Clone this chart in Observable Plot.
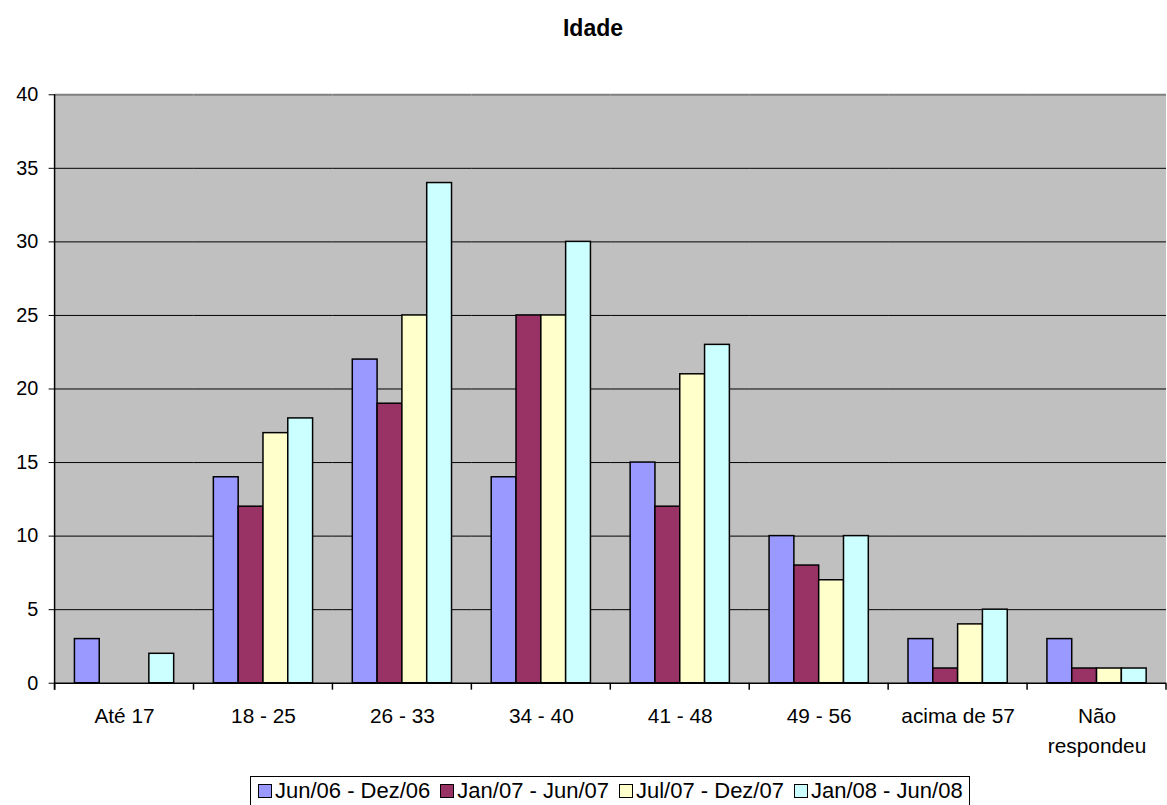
<!DOCTYPE html>
<html>
<head>
<meta charset="utf-8">
<script src="https://cdn.jsdelivr.net/npm/d3@7"></script>
<script src="https://cdn.jsdelivr.net/npm/@observablehq/plot@0.6"></script>
<style>
  html, body { margin: 0; padding: 0; overflow: hidden; background: #fff; width: 1167px; height: 805px; }
  body { position: relative; font-family: "Liberation Sans", Arial, sans-serif; }
  #title { position: absolute; left: 0; width: 1186px; top: 15px; text-align: center; font-weight: bold; font-size: 23px; color: #000; }
  #chart { position: absolute; left: 0; top: 0; }
  #legend { position: absolute; left: 250px; top: 776px; border: 1px solid #000; background: #fff; display: flex; align-items: center; padding: 2px 6px 2px 7px; font-size: 22px; height: 30px; box-sizing: border-box; white-space: nowrap; }
  .item { display: flex; align-items: center; margin-right: 10px; }
  .item:last-child { margin-right: 0; }
  .sw { width: 12px; height: 12px; border: 1px solid #000; margin-right: 3px; }
</style>
</head>
<body>
<div id="title">Idade</div>
<div id="chart"></div>
<div id="legend"></div>
<script>
const categories = ["Até 17", "18 - 25", "26 - 33", "34 - 40", "41 - 48", "49 - 56", "acima de 57", "Não respondeu"];
const series = ["Jun/06 - Dez/06", "Jan/07 - Jun/07", "Jul/07 - Dez/07", "Jan/08 - Jun/08"];
const colors = ["#9999FF", "#993366", "#FFFFCC", "#CCFFFF"];
const jun06dez06 = [3, 14, 22, 14, 15, 10, 3, 3];
const jan07jun07 = [0, 12, 19, 25, 12, 8, 1, 1];
const jul07dez07 = [0, 17, 25, 25, 21, 7, 4, 1];
const jan08jun08 = [2, 18, 34, 30, 23, 10, 5, 1];
const yTicks = [0, 5, 10, 15, 20, 25, 30, 35, 40];
const gridLines = [5, 10, 15, 20, 25, 30, 35];

const seriesValues = [jun06dez06, jan07jun07, jul07dez07, jan08jun08];
const data = [];
categories.forEach((c, i) => {
  series.forEach((s, j) => {
    data.push({cat: c, series: s, value: seriesValues[j][i]});
  });
});

const chart = Plot.plot({
  width: 1176,
  height: 775,
  marginLeft: 53,
  marginRight: 0,
  marginTop: 95,
  marginBottom: 87,
  style: {fontFamily: "'Liberation Sans', Arial, sans-serif", fontSize: "20px", color: "#000", background: "transparent"},
  fx: {domain: categories, paddingInner: 0, paddingOuter: 0, label: null},
  x: {domain: series, paddingInner: 0, paddingOuter: 0.7, axis: null},
  y: {domain: [0, 40], label: null},
  color: {domain: series, range: colors},
  marks: [
    Plot.frame({fill: "#c0c0c0", stroke: null, shapeRendering: "crispEdges"}),
    Plot.ruleY(gridLines, {stroke: "#000", strokeWidth: 1}),
    Plot.ruleY([40], {stroke: "#808080", strokeWidth: 2}),
    Plot.barY(data.filter(d => d.value > 0), {fx: "cat", x: "series", y: "value", fill: "series", stroke: "#000", strokeWidth: 1.5}),
    Plot.ruleY([0], {stroke: "#000", strokeWidth: 1.5}),
    Plot.axisY(yTicks, {tickSize: 6, tickPadding: 11, fontSize: 20, label: null, stroke: "#000"}),
    Plot.axisFx({anchor: "bottom", tickSize: 0, tickPadding: 18, fontSize: 21, lineHeight: 1.45, label: null,
      tickFormat: d => d === "Não respondeu" ? "Não\nrespondeu" : d})
  ]
});
document.getElementById("chart").appendChild(chart);

// axis line and category boundary ticks drawn from the plot's own scales
const fx = chart.scale("fx");
const y = chart.scale("y");
const svg = d3.select(chart);
const y0 = y.apply(0), y40 = y.apply(40);
const bounds = categories.map(c => fx.apply(c)).concat([fx.apply(categories[categories.length - 1]) + fx.bandwidth]);
svg.append("line").attr("x1", bounds[0]).attr("x2", bounds[0]).attr("y1", y40).attr("y2", y0 + 7).attr("stroke", "#000").attr("stroke-width", 1.5);
svg.append("g").selectAll("line").data(bounds).join("line")
  .attr("x1", d => d).attr("x2", d => d).attr("y1", y0).attr("y2", y0 + 7)
  .attr("stroke", "#000").attr("stroke-width", 1.5);

const legend = d3.select("#legend");
series.forEach((s, i) => {
  const it = legend.append("div").attr("class", "item");
  it.append("div").attr("class", "sw").style("background", colors[i]);
  it.append("span").text(s);
});
</script>
</body>
</html>
